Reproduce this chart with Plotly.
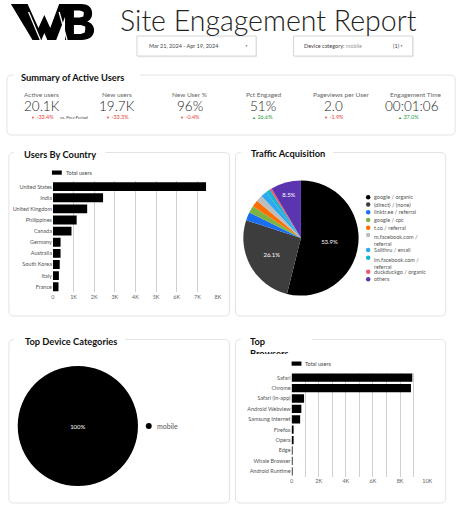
import plotly.graph_objects as go

W, H = 467, 512

# ---------------- data ----------------
kpi_labels = ["Active users", "New users", "New User %", "Pct Engaged", "Pageviews per User", "Engagement Time"]
kpi_values = ["20.1K", "19.7K", "96%", "51%", "2.0", "00:01:06"]
kpi_deltas = [-33.4, -33.3, -0.4, 26.6, -1.9, 37.0]

countries = ["United States", "India", "United Kingdom", "Philippines", "Canada",
             "Germany", "Australia", "South Korea", "Italy", "France"]
country_users = [7420, 2430, 1660, 1150, 900, 370, 370, 330, 290, 270]
country_tickvals = [0, 1000, 2000, 3000, 4000, 5000, 6000, 7000, 8000]
country_ticktext = ["0", "1K", "2K", "3K", "4K", "5K", "6K", "7K", "8K"]

sources = ["google / organic", "(direct) / (none)", "linktr.ee / referral", "google / cpc",
           "t.co / referral", "m.facebook.com / referral", "Sailthru / email",
           "lm.facebook.com / referral", "duckduckgo / organic", "others"]
source_share = [53.9, 26.1, 2.3, 2.0, 1.9, 1.8, 1.7, 1.2, 0.6, 8.5]
source_colors = ["#000000", "#3d3d3d", "#1a6ef0", "#7cb342", "#ff6d00", "#bdbdbd",
                 "#2ea8ef", "#15b6d0", "#f0566e", "#5b35b0"]

devices = ["mobile"]
device_share = [100]

browsers = ["Safari", "Chrome", "Safari (in-app)", "Android Webview", "Samsung Internet",
            "Firefox", "Opera", "Edge", "Whale Browser", "Android Runtime"]
browser_users = [8900, 8800, 920, 720, 630, 120, 80, 70, 20, 20]
browser_tickvals = [0, 1000, 2000, 3000, 4000, 5000, 6000, 7000, 8000, 9000, 10000]
browser_ticktext = ["0", "", "2K", "", "4K", "", "6K", "", "8K", "", "10K"]

FONT = "Lato"


def X(px):
    return px / W


def Y(py):
    return 1 - py / H


fig = go.Figure()

# ---------------- bar charts ----------------
fig.add_trace(go.Bar(y=countries, x=country_users, orientation="h",
                     marker=dict(color="#000000", line=dict(width=0)),
                     xaxis="x", yaxis="y", showlegend=False, hoverinfo="x+y"))
fig.add_trace(go.Bar(y=browsers, x=browser_users, orientation="h",
                     marker=dict(color="#000000", line=dict(width=0)),
                     xaxis="x2", yaxis="y2", showlegend=False, hoverinfo="x+y"))

# ---------------- pies ----------------
pie_text = [f"{v:.1f}%" if v >= 5 else "" for v in source_share]
fig.add_trace(go.Pie(labels=sources, values=source_share, sort=False, direction="clockwise",
                     rotation=0, marker=dict(colors=source_colors, line=dict(width=0)),
                     text=pie_text, textinfo="text", textposition="inside",
                     insidetextorientation="horizontal",
                     textfont=dict(color="white", size=6, family=FONT),
                     domain=dict(x=[X(245), X(362)], y=[Y(297), Y(179)]),
                     showlegend=False, hoverinfo="label+percent"))
fig.add_trace(go.Pie(labels=devices, values=device_share, sort=False,
                     marker=dict(colors=["#000000"], line=dict(width=0)),
                     textinfo="percent", textposition="inside",
                     textfont=dict(color="white", size=6, family=FONT),
                     domain=dict(x=[X(16), X(138)], y=[Y(487), Y(365)]),
                     showlegend=False, hoverinfo="label+percent"))

shapes = []
annotations = []


def P(pts):
    return " ".join(f"{X(a):.5f},{Y(b):.5f}" for a, b in pts)


def panel(x0, y0, x1, y1, gap0, gap1, r=5):
    path = (f"M {X(gap1)},{Y(y0)} L {X(x1 - r)},{Y(y0)} Q {X(x1)},{Y(y0)} {X(x1)},{Y(y0 + r)} "
            f"L {X(x1)},{Y(y1 - r)} Q {X(x1)},{Y(y1)} {X(x1 - r)},{Y(y1)} "
            f"L {X(x0 + r)},{Y(y1)} Q {X(x0)},{Y(y1)} {X(x0)},{Y(y1 - r)} "
            f"L {X(x0)},{Y(y0 + r)} Q {X(x0)},{Y(y0)} {X(x0 + r)},{Y(y0)} L {X(gap0)},{Y(y0)}")
    shapes.append(dict(type="path", xref="paper", yref="paper", path=path,
                       line=dict(color="#e3e3e3", width=1), layer="below"))


def text(px, py, s, size=6, color="#555", xanchor="left", weight="normal", family=FONT, **kw):
    annotations.append(dict(x=X(px), y=Y(py), xref="paper", yref="paper", text=s,
                            showarrow=False, xanchor=xanchor, yanchor="middle",
                            font=dict(size=size, color=color, family=family, weight=weight), **kw))


# ---------------- logo (drawn as shapes) ----------------
w_pts = [(9, 4), (26, 4), (37, 28), (43, 15), (49, 28), (58, 4), (69, 4), (55, 40),
         (46, 40), (43, 33), (40, 40), (31, 40)]
shapes.append(dict(type="path", xref="paper", yref="paper",
                   path="M " + " L ".join(P([p]) for p in w_pts) + " Z",
                   fillcolor="#000", line=dict(width=0)))
b_path = ("M {a} L {b} C {c} {d} {e} C {f} {g} {h} C {i} {j} {k} C {l} {m} {n} L {o} Z".format(
    a=P([(64, 4)]), b=P([(80, 4)]), c=P([(89, 4)]), d=P([(91.5, 9)]), e=P([(91.5, 13.5)]),
    f=P([(91.5, 18)]), g=P([(89, 20.5)]), h=P([(86.5, 21.5)]),
    i=P([(90.5, 22.5)]), j=P([(93.5, 26)]), k=P([(93.5, 30)]),
    l=P([(93.5, 36.5)]), m=P([(88, 40)]), n=P([(81, 40)]), o=P([(64, 40)])))
shapes.append(dict(type="path", xref="paper", yref="paper", path=b_path,
                   fillcolor="#000", line=dict(width=0)))
for hole in ([(73, 10.5), (79, 10.5), (83, 12), (83, 14), (82.5, 16.5), (79, 17.5), (73, 17.5)],
             [(73, 25), (80, 25), (84.5, 26.5), (84.5, 29.5), (84, 32.5), (80, 34), (73, 34)]):
    shapes.append(dict(type="path", xref="paper", yref="paper",
                       path="M " + " L ".join(P([p]) for p in hole) + " Z",
                       fillcolor="#fff", line=dict(width=0)))
# white slashes through the mark
for (sx0, sy0, sx1, sy1) in [(27, 12, 39, 40), (58, 12, 66, 40)]:
    shapes.append(dict(type="line", xref="paper", yref="paper", x0=X(sx0), y0=Y(sy0),
                       x1=X(sx1), y1=Y(sy1), line=dict(color="#fff", width=1.3)))

# panels
panel(5, 75, 460, 135, 12, 140)
panel(7, 152.5, 231, 316, 12, 105)
panel(237, 152.5, 450.5, 316, 243, 336)
panel(7, 339.5, 231, 503, 12, 125)
panel(237, 339.5, 450.5, 503, 243, 315)

# panel titles
text(17, 77.5, "Summary of Active Users", size=9.3, color="#111", weight="bold")
text(20, 154, "Users By Country", size=9.3, color="#111", weight="bold")
text(251, 153.5, "Traffic Acquisition", size=9.3, color="#111", weight="bold")
text(21, 341, "Top Device Categories", size=9.3, color="#111", weight="bold")
annotations.append(dict(x=X(250), y=Y(334), xref="paper", yref="paper", text="Top<br>Browsers",
                        showarrow=False, xanchor="left", yanchor="top", align="left",
                        height=18, valign="top",
                        font=dict(size=9.3, color="#111", family=FONT, weight="bold")))

# header
text(271, 20, "Site Engagement Report", size=28.5, color="#222", xanchor="center", weight=300)

# dropdown boxes
for (bx0, bx1) in [(137, 258), (296, 417)]:
    shapes.append(dict(type="rect", xref="paper", yref="paper", x0=X(bx0 + 1), x1=X(bx1 + 1),
                       y0=Y(57.2), y1=Y(37), line=dict(width=0), fillcolor="#ececec", layer="below"))
    shapes.append(dict(type="rect", xref="paper", yref="paper", x0=X(bx0), x1=X(bx1),
                       y0=Y(56), y1=Y(36), line=dict(color="#d6d6d6", width=1), fillcolor="white",
                       layer="below"))
text(147, 46, "Mar 21, 2024 - Apr 19, 2024", size=5.5, color="#444")
text(248, 46.3, "▼", size=3, color="#666", xanchor="center")
text(305, 46, "Device category: <span style='color:#999'>mobile</span>", size=5.5, color="#444")
text(395, 46, "(1)", size=5.5, color="#444")
text(406, 46.3, "▼", size=3, color="#666", xanchor="center")

# KPIs
label_cx = [40.5, 117, 190.7, 265.5, 344, 420]
value_cx = [40.5, 117, 191, 264.5, 337, 416]
for i in range(len(kpi_labels)):
    text(label_cx[i], 94.5, kpi_labels[i], size=6.5, color="#666", xanchor="center")
    text(value_cx[i], 106, kpi_values[i], size=13.5, color="#222", xanchor="center", weight=300)
    d = kpi_deltas[i]
    col = "#e8453c" if d < 0 else "#2e9a48"
    arrow = "▼" if d < 0 else "▲"
    dx = value_cx[i] + (1 if i == 0 else 0) - (3 if i == 5 else 0)
    text(dx, 116.7, f"<span style='font-size:4px'>{arrow}</span> {d:.1f}%", size=5.5, color=col,
         xanchor="center")
text(57, 117.3, "vs. Prev Period", size=4.3, color="#444")

# bar legends
for (sx, sy, tx) in [(50.7, 172.6, 63), (294, 363.6, 306)]:
    shapes.append(dict(type="rect", xref="paper", yref="paper", x0=X(sx), x1=X(sx + 10),
                       y0=Y(sy + 2.1), y1=Y(sy - 2.1), fillcolor="#000", line=dict(width=0)))
    text(tx, sy, "Total users", size=5.5, color="#444")

# traffic legend
legend_y = [197.3, 204.5, 212.3, 220, 227.7, 235, 250, 257.7, 271.7, 279.3]
for lab, col, ly in zip(sources, source_colors, legend_y):
    shapes.append(dict(type="circle", xref="paper", yref="paper", x0=X(369.5), x1=X(374),
                       y0=Y(ly + 2.25), y1=Y(ly - 2.25), fillcolor=col, line=dict(width=0)))
    if len(lab) > 21:
        a, b = lab.split(" / ")
        annotations.append(dict(x=X(376), y=Y(ly - 3.2), xref="paper", yref="paper",
                                text=f"{a} /<br>{b}", showarrow=False, xanchor="left", yanchor="top",
                                align="left", font=dict(size=5.5, color="#555", family=FONT)))
    else:
        text(376, ly, lab, size=5.5, color="#555")

# device legend
shapes.append(dict(type="circle", xref="paper", yref="paper", x0=X(146), x1=X(152),
                   y0=Y(429), y1=Y(423), fillcolor="#000", line=dict(width=0)))
text(155, 426, devices[0], size=7, color="#555")

axis_common = dict(showline=False, zeroline=False, ticks="", fixedrange=True)
fig.update_layout(
    width=W, height=H, margin=dict(l=0, r=0, t=0, b=0),
    paper_bgcolor="white", plot_bgcolor="white",
    font=dict(family=FONT, color="#555"),
    bargap=0.2,
    shapes=shapes, annotations=annotations,
    xaxis=dict(domain=[X(51.7), X(219.3)], anchor="y", range=[0, 8000],
               tickvals=country_tickvals, ticktext=country_ticktext,
               showgrid=True, gridcolor="#d0d0d0", gridwidth=1,
               tickfont=dict(size=5.5, color="#666"), **axis_common),
    yaxis=dict(domain=[Y(292.3), Y(181.1)], anchor="x", autorange="reversed",
               showgrid=False, tickfont=dict(size=5.5, color="#555"), **axis_common),
    xaxis2=dict(domain=[X(294), X(431.7)], anchor="y2", range=[0, 10000],
                tickvals=browser_tickvals, ticktext=browser_ticktext,
                showgrid=True, gridcolor="#d0d0d0", gridwidth=1,
                tickfont=dict(size=5.5, color="#666"), **axis_common),
    yaxis2=dict(domain=[Y(476.5), Y(372.5)], anchor="x2", autorange="reversed",
                showgrid=False, tickfont=dict(size=5.5, color="#555"), **axis_common),
    showlegend=False,
)

fig.write_html("out.html", config=dict(displayModeBar=False))
